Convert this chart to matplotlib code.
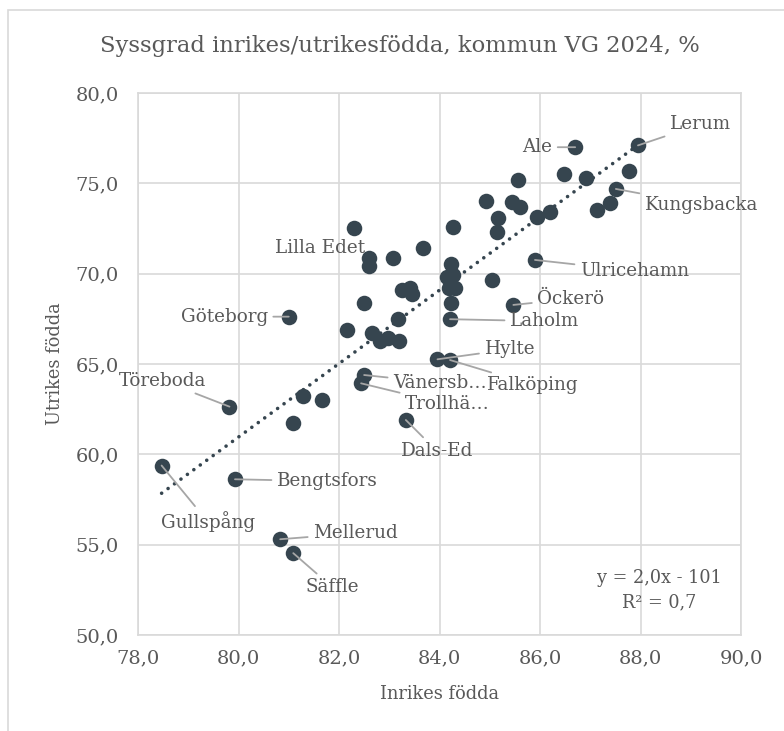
import numpy as np
import matplotlib
matplotlib.use("Agg")
import matplotlib.pyplot as plt
from matplotlib.patches import Rectangle

# Syssgrad inrikes/utrikesfödda per kommun, Västra Götaland 2024
inrikes = [87.95, 86.70, 85.57, 86.48, 86.91, 87.78, 87.51, 87.39, 87.13,
           84.92, 85.45, 85.60, 86.20, 85.95, 85.16, 85.15, 84.27, 82.30,
           83.68, 83.08, 82.60, 82.60, 84.22, 85.90, 85.04, 84.14, 84.27,
           84.31, 84.18, 83.25, 83.41, 83.46, 82.50, 84.22, 85.47, 84.21,
           81.00, 83.17, 82.15, 82.65, 82.82, 82.98, 83.20, 83.96, 84.21,
           82.50, 82.44, 79.82, 81.29, 81.66, 81.08, 83.33, 78.47, 79.93,
           80.83, 81.09]
utrikes = [77.10, 77.00, 75.19, 75.50, 75.28, 75.68, 74.69, 73.90, 73.53,
           74.02, 73.99, 73.67, 73.43, 73.16, 73.07, 72.33, 72.57, 72.51,
           71.44, 70.89, 70.85, 70.44, 70.56, 70.76, 69.65, 69.80, 69.93,
           69.19, 69.19, 69.10, 69.22, 68.87, 68.36, 68.40, 68.27, 67.48,
           67.62, 67.48, 66.88, 66.70, 66.26, 66.42, 66.26, 65.26, 65.22,
           64.39, 63.93, 62.64, 63.23, 63.01, 61.72, 61.90, 59.38, 58.62,
           55.30, 54.53]

# namnade kommuner: index -> (etikett, dx, dy, ha, leader)
etiketter = {
    0: ("Lerum", 32, 21, "left", True),
    1: ("Ale", -23, 0, "right", True),
    6: ("Kungsbacka", 29, -16, "left", True),
    20: ("Lilla Edet", -4, 10, "right", False),
    23: ("Ulricehamn", 45, -11, "left", True),
    34: ("Öckerö", 24, 6, "left", True),
    35: ("Laholm", 60, -2, "left", True),
    36: ("Göteborg", -21, 0, "right", True),
    43: ("Hylte", 47, 10, "left", True),
    44: ("Falköping", 37, -25, "left", True),
    45: ("Vänersb…", 29, -8, "left", True),
    46: ("Trollhä…", 44, -21, "left", True),
    47: ("Töreboda", -67, 26, "center", True),
    51: ("Dals-Ed", 31, -31, "center", True),
    52: ("Gullspång", 46, -56, "center", True),
    53: ("Bengtsfors", 42, -2, "left", True),
    54: ("Mellerud", 33, 6, "left", True),
    55: ("Säffle", 39, -34, "center", True),
}

x_ticks = [78, 80, 82, 84, 86, 88, 90]
y_ticks = [50, 55, 60, 65, 70, 75, 80]

punkt = "#36454f"
text_c = "#595959"
grid_c = "#d9d9d9"
font = "DejaVu Serif"

plt.rcParams["font.family"] = font

fig = plt.figure(figsize=(7.84, 7.31), dpi=100)
ax = fig.add_axes([138/784, 1-635/731, 603/784, 542/731])

# ram runt diagrammet
fig.patches.append(Rectangle((8/784, -0.1), 1.2, 1 - 10/731 + 0.1,
                             transform=fig.transFigure, fill=False,
                             edgecolor=grid_c, lw=1.2))

ax.scatter(inrikes, utrikes, s=125, color=punkt, zorder=3, linewidths=0)

# linjär trendlinje
k, m = np.polyfit(inrikes, utrikes, 1)
xs = np.array([min(inrikes), max(inrikes)])
ax.plot(xs, k*xs + m, color=punkt, lw=2.6, linestyle=(0, (0.01, 2.2)),
        dash_capstyle="round", zorder=4)

for i, (namn, dx, dy, ha, leader) in etiketter.items():
    arrow = dict(arrowstyle="-", color="#a6a6a6", lw=1.3,
                 shrinkA=2, shrinkB=0) if leader else None
    ax.annotate(namn, (inrikes[i], utrikes[i]), xytext=(dx, dy),
                textcoords="offset pixels", ha=ha, va="center",
                fontsize=13.2, color=text_c, arrowprops=arrow, zorder=5)

ax.text(0.864, 0.082, "y = 2,0x - 101\nR² = 0,7", transform=ax.transAxes,
        ha="center", va="center", fontsize=12.7, color=text_c,
        linespacing=1.45)

ax.set_xlim(78, 90)
ax.set_ylim(50, 80)
ax.set_xticks(x_ticks)
ax.set_yticks(y_ticks)
ax.set_xticklabels([f"{v:.1f}".replace(".", ",") for v in x_ticks])
ax.set_yticklabels([f"{v:.1f}".replace(".", ",") for v in y_ticks])
ax.tick_params(length=0, labelsize=14, labelcolor=text_c)
ax.tick_params(axis="y", pad=14)
ax.tick_params(axis="x", pad=10)
ax.grid(True, color=grid_c, lw=1.2)
ax.set_axisbelow(True)
for s in ax.spines.values():
    s.set_color(grid_c)
    s.set_linewidth(1.2)

ax.set_xlabel("Inrikes födda", fontsize=12.8, color=text_c, labelpad=13)
ax.set_ylabel("Utrikes födda", fontsize=12.8, color=text_c, labelpad=8)
fig.text(400/784, 1-46/731, "Syssgrad inrikes/utrikesfödda, kommun VG 2024, %",
         ha="center", va="center", fontsize=16.3, color=text_c)

fig.savefig("out.png", dpi=100)
